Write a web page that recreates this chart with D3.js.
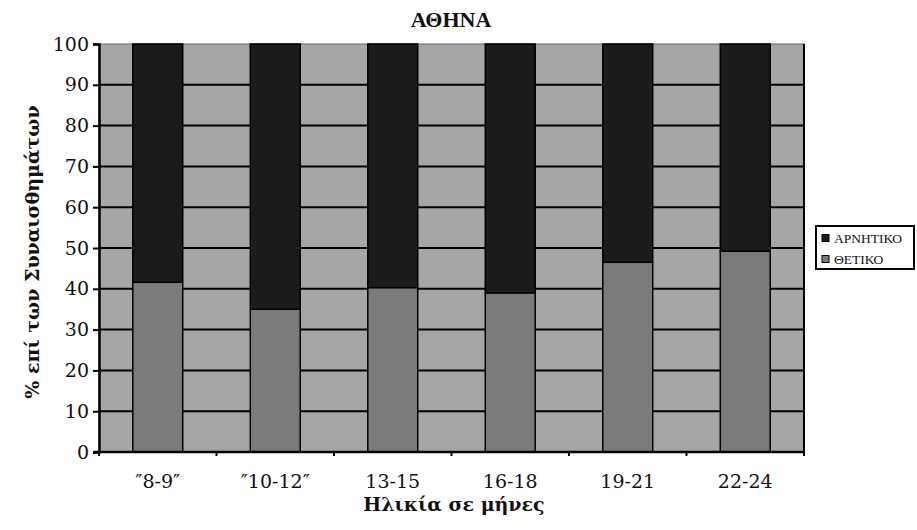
<!DOCTYPE html>
<html>
<head>
<meta charset="utf-8">
<script src="https://cdn.jsdelivr.net/npm/d3@7"></script>
<style>
  body { margin: 0; background: #fff; }
  text { font-family: "DejaVu Serif", serif; fill: #111; }
</style>
</head>
<body>
<script>
var categories = ['″8-9″', '″10-12″', '13-15', '16-18', '19-21', '22-24'];
var positive = [41.6, 35.0, 40.3, 39.0, 46.5, 49.2];   // ΘΕΤΙΚΟ
var negative = positive.map(function (v) { return 100 - v; }); // ΑΡΝΗΤΙΚΟ (stack to 100%)
var yTicks = [0, 10, 20, 30, 40, 50, 60, 70, 80, 90, 100];
var seriesNames = ['ΑΡΝΗΤΙΚΟ', 'ΘΕΤΙΚΟ'];
var seriesColors = ['#1b1b1b', '#7b7b7b'];

var width = 917, height = 530;
var margin = {top: 44, left: 99, right: 113, bottom: 78};

var svg = d3.select('body').append('svg')
    .attr('width', width)
    .attr('height', height);

var x = d3.scaleBand()
    .domain(categories)
    .range([margin.left, width - margin.right])
    .paddingInner(0.575)
    .paddingOuter(0.2875);

var y = d3.scaleLinear()
    .domain([0, 100])
    .range([height - margin.bottom, margin.top]);

// plot background
svg.append('rect')
    .attr('x', margin.left)
    .attr('y', margin.top)
    .attr('width', width - margin.left - margin.right)
    .attr('height', y(0) - margin.top)
    .attr('fill', '#a6a6a6')
    .attr('stroke', '#666')
    .attr('stroke-width', 1);

// gridlines
svg.append('g')
    .selectAll('line')
    .data(yTicks.slice(1, -1)).enter()
    .append('line')
    .attr('x1', margin.left)
    .attr('x2', width - margin.right)
    .attr('y1', d => y(d))
    .attr('y2', d => y(d))
    .attr('stroke', '#000')
    .attr('stroke-width', 2);

// right border
svg.append('line')
    .attr('x1', width - margin.right).attr('x2', width - margin.right)
    .attr('y1', margin.top).attr('y2', y(0))
    .attr('stroke', '#000').attr('stroke-width', 2);

// stacked bars
var stackData = categories.map((c, i) => ({cat: c, pos: positive[i], neg: negative[i]}));
var stack = d3.stack().keys(['pos', 'neg'])(stackData);
var colorOf = {pos: seriesColors[1], neg: seriesColors[0]};

svg.append('g')
    .selectAll('g')
    .data(stack).enter()
    .append('g')
    .attr('fill', d => colorOf[d.key])
    .selectAll('rect')
    .data(d => d).enter()
    .append('rect')
    .attr('x', d => x(d.data.cat))
    .attr('width', x.bandwidth())
    .attr('y', d => y(d[1]))
    .attr('height', d => y(d[0]) - y(d[1]))
    .attr('stroke', '#000')
    .attr('stroke-width', 1.5);

// y axis
var yAxis = svg.append('g')
    .attr('transform', 'translate(' + margin.left + ',0)')
    .call(d3.axisLeft(y).tickValues(yTicks).tickSize(6).tickPadding(4));
yAxis.select('.domain').attr('stroke', '#000').attr('stroke-width', 2.5);
yAxis.selectAll('.tick line').attr('stroke', '#000').attr('stroke-width', 2);
yAxis.selectAll('.tick text')
    .style('font-family', '"DejaVu Serif", serif')
    .style('font-size', '19px')
    .attr('fill', '#111');

// x axis, ticks at category boundaries
var xAxis = svg.append('g')
    .attr('transform', 'translate(0,' + y(0) + ')');
xAxis.append('line')
    .attr('x1', margin.left - 5).attr('x2', width - margin.right)
    .attr('stroke', '#000').attr('stroke-width', 2.5);
xAxis.selectAll('.bt')
    .data(d3.range(categories.length + 1)).enter()
    .append('line')
    .attr('class', 'bt')
    .attr('x1', i => margin.left + i * x.step())
    .attr('x2', i => margin.left + i * x.step())
    .attr('y1', 0).attr('y2', 4)
    .attr('stroke', '#000').attr('stroke-width', 2);
xAxis.selectAll('text')
    .data(categories).enter()
    .append('text')
    .attr('x', d => x(d) + x.bandwidth() / 2)
    .attr('y', 36)
    .attr('text-anchor', 'middle')
    .style('font-size', '19px')
    .text(d => d);

// titles
svg.append('text')
    .attr('x', 451).attr('y', 27)
    .attr('text-anchor', 'middle')
    .style('font-family', '"Liberation Serif", serif')
    .style('font-size', '22px')
    .style('font-weight', 'bold')
    .text('ΑΘΗΝΑ');

svg.append('text')
    .attr('x', 454).attr('y', 511)
    .attr('text-anchor', 'middle')
    .style('font-size', '19px')
    .style('font-weight', 'bold')
    .text('Ηλικία σε μήνες');

svg.append('text')
    .attr('transform', 'translate(39,' + 252 + ') rotate(-90)')
    .attr('text-anchor', 'middle')
    .style('font-size', '19px')
    .style('font-weight', 'bold')
    .text('% επί των Συναισθημάτων');

// legend
var legend = svg.append('g').attr('transform', 'translate(816,226)');
legend.append('rect')
    .attr('width', 98).attr('height', 43)
    .attr('fill', '#fff')
    .attr('stroke', '#000').attr('stroke-width', 2);
var items = legend.selectAll('g')
    .data(seriesNames).enter()
    .append('g')
    .attr('transform', (d, i) => 'translate(6,' + (12 + i * 21) + ')');
items.append('rect')
    .attr('x', 0).attr('y', -3.5)
    .attr('width', 7).attr('height', 7)
    .attr('fill', (d, i) => seriesColors[i])
    .attr('stroke', '#000').attr('stroke-width', 1);
items.append('text')
    .attr('x', 12).attr('y', 5)
    .style('font-family', '"Liberation Serif", serif')
    .style('font-size', '13.5px')
    .text(d => d);
</script>
</body>
</html>
